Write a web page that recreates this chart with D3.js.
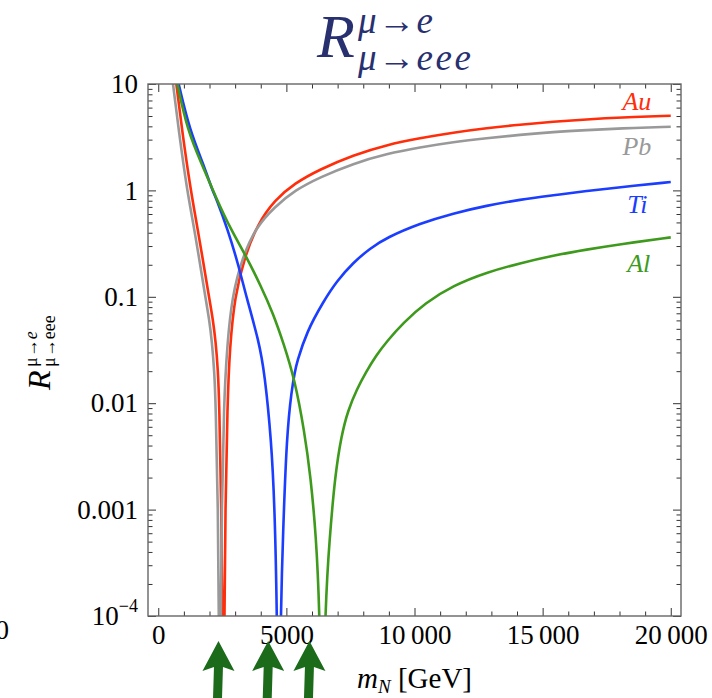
<!DOCTYPE html>
<html lang="en">
<head>
<meta charset="UTF-8">
<title>R mu-e over mu-eee</title>
<style>
    body { margin: 0; background: #fff; }
    svg { display: block; font-family: "Liberation Serif", "Times New Roman", serif; }
    .tick text { font-size: 27px; fill: #000; font-family: "Liberation Serif", serif; }
    .tick line { stroke: #333; stroke-width: 1; }
</style>
</head>
<body>
<svg id="chart" width="712" height="698"></svg>
<script src="https://d3js.org/d3.v7.min.js"></script>
<script>
// values: [m_N in GeV, ratio]
const auCurve = [
    [706, 10], [927, 3.7], [1265, 1.0], [1551, 0.42], [1980, 0.1], [2130, 0.062], [2240, 0.038],
    [2330, 0.0205], [2383, 0.01], [2461, 0.001], [2515, 1e-4], [2545, 1e-6], [2575, 1e-4],
    [2620, 0.001], [2700, 0.01], [2790, 0.033], [2982, 0.1], [3372, 0.24], [3893, 0.49],
    [4543, 0.81], [5324, 1.17], [6312, 1.58], [7612, 2.15], [8915, 2.68], [10215, 3.1],
    [11516, 3.5], [12817, 3.85], [14117, 4.15], [15418, 4.42], [16720, 4.65], [18020, 4.85],
    [20000, 5.03]
];
const pbCurve = [
    [576, 10], [797, 3.7], [1122, 1.0], [1421, 0.42], [1837, 0.1], [1995, 0.06], [2095, 0.038],
    [2190, 0.0196], [2241, 0.01], [2332, 0.001], [2371, 1e-4], [2400, 1e-6], [2430, 1e-4],
    [2480, 0.001], [2560, 0.01], [2690, 0.035], [2878, 0.1], [3281, 0.235], [3828, 0.456],
    [4543, 0.70], [5324, 1.0], [6312, 1.33], [7612, 1.79], [8915, 2.21], [10215, 2.54],
    [11516, 2.85], [12817, 3.1], [14117, 3.33], [15418, 3.54], [16720, 3.69], [18020, 3.83],
    [20000, 3.97]
];
const tiCurve = [
    [797, 10], [1226, 3.7], [1750, 1.8], [2110, 1.0], [2267, 0.84], [2722, 0.42], [3112, 0.206],
    [3437, 0.1], [3930, 0.038], [4153, 0.019], [4412, 0.0045], [4543, 0.00106], [4640, 1e-4],
    [4705, 1e-6], [4770, 1e-4], [4870, 0.0006], [5012, 0.005], [5208, 0.0135], [5330, 0.0195],
    [5403, 0.024], [5793, 0.047], [6441, 0.09], [6962, 0.14], [7612, 0.21], [8263, 0.285],
    [8915, 0.36], [10215, 0.49], [11516, 0.61], [12817, 0.72], [14117, 0.82], [15418, 0.9],
    [16720, 0.99], [18020, 1.07], [20000, 1.2]
];
const alCurve = [
    [745, 10], [1135, 3.7], [1681, 1.8], [2267, 0.84], [2852, 0.42], [3372, 0.256], [4023, 0.124],
    [4478, 0.07], [4900, 0.036], [5330, 0.0165], [5700, 0.0055], [5950, 0.002], [6150, 0.0006],
    [6320, 1e-4], [6400, 1e-6], [6480, 1e-4], [6690, 0.00055], [6900, 0.0021], [7150, 0.005],
    [7400, 0.0085], [7750, 0.0135], [8100, 0.0195], [8500, 0.028], [8915, 0.038], [9565, 0.057],
    [10400, 0.087], [11516, 0.128], [12817, 0.17], [14117, 0.207], [15418, 0.245],
    [16720, 0.278], [18020, 0.312], [20000, 0.362]
];

const seriesNames = ['Au', 'Pb', 'Ti', 'Al'];
const seriesColors = ['#ff2d0a', '#999999', '#1a3dff', '#3e9a1c'];
// label anchor point [m_N, ratio] next to each curve (text baseline)
const labelAt = [[18680, 5.7], [18680, 2.15], [18700, 0.613], [18750, 0.171]];

const xMajorTicks = [0, 5000, 10000, 15000, 20000];
const yMajorTicks = [1e-4, 0.001, 0.01, 0.1, 1, 10];
const yTickLabels = ['10\u207B\u2074', '0.001', '0.01', '0.1', '1', '10'];
// the hand drawn arrows under the axis
const arrowMasses = [2350, 4290, 5900];

const svg = d3.select('#chart');
const frame = { left: 148, right: 681, top: 84, bottom: 616 };

const x = d3.scaleLinear().domain([-400, 20400]).range([frame.left, frame.right]);
const y = d3.scaleLog().domain([1e-4, 10]).range([frame.bottom, frame.top]);

svg.append('rect').attr('width', 712).attr('height', 698).attr('fill', '#fff');

svg.append('defs').append('clipPath').attr('id', 'plot-clip')
    .append('rect')
    .attr('x', frame.left).attr('y', frame.top)
    .attr('width', frame.right - frame.left).attr('height', frame.bottom - frame.top);

// curves (b-spline smooths the read-off points)
const line = d3.line()
    .x(d => x(d[0]))
    .y(d => y(d[1]))
    .curve(d3.curveBasis);

const curves = [auCurve, pbCurve, tiCurve, alCurve];
curves.forEach((c, i) => {
    svg.append('path')
        .attr('clip-path', 'url(#plot-clip)')
        .attr('d', line(c))
        .attr('fill', 'none')
        .attr('stroke', seriesColors[i])
        .attr('stroke-width', 2.6);
});

// curve labels
seriesNames.forEach((name, i) => {
    svg.append('text')
        .attr('x', x(labelAt[i][0]))
        .attr('y', y(labelAt[i][1]))
        .attr('text-anchor', 'middle')
        .attr('font-style', 'italic')
        .attr('font-size', 26)
        .attr('fill', seriesColors[i])
        .text(name);
});

// frame + inward ticks on all four sides
const xMinor = x.ticks(20).filter(v => v >= 0 && !xMajorTicks.includes(v));
const yMinor = y.ticks().filter(v => !yMajorTicks.some(t => Math.abs(t - v) / v < 1e-6));

function noDomain(g) { g.select('.domain').remove(); }

const fmtX = d => d < 10000 ? String(d) : d3.format(',')(d).replace(',', '\u2009');

svg.append('g').attr('transform', `translate(0,${frame.bottom})`)
    .call(d3.axisBottom(x).tickValues(xMajorTicks).tickSize(-8).tickPadding(9).tickFormat(fmtX))
    .call(noDomain);
svg.append('g').attr('transform', `translate(0,${frame.bottom})`)
    .call(d3.axisBottom(x).tickValues(xMinor).tickSize(-4.5).tickFormat(''))
    .call(noDomain);
svg.append('g').attr('transform', `translate(0,${frame.top})`)
    .call(d3.axisTop(x).tickValues(xMajorTicks).tickSize(-8).tickFormat(''))
    .call(noDomain);
svg.append('g').attr('transform', `translate(0,${frame.top})`)
    .call(d3.axisTop(x).tickValues(xMinor).tickSize(-4.5).tickFormat(''))
    .call(noDomain);

const yLeft = svg.append('g').attr('transform', `translate(${frame.left},0)`)
    .call(d3.axisLeft(y).tickValues(yMajorTicks).tickSize(-8).tickPadding(10)
        .tickFormat((d, i) => yTickLabels[i]))
    .call(noDomain);
svg.append('g').attr('transform', `translate(${frame.left},0)`)
    .call(d3.axisLeft(y).tickValues(yMinor).tickSize(-4.5).tickFormat(''))
    .call(noDomain);
svg.append('g').attr('transform', `translate(${frame.right},0)`)
    .call(d3.axisRight(y).tickValues(yMajorTicks).tickSize(-8).tickFormat(''))
    .call(noDomain);
svg.append('g').attr('transform', `translate(${frame.right},0)`)
    .call(d3.axisRight(y).tickValues(yMinor).tickSize(-4.5).tickFormat(''))
    .call(noDomain);

// 10^-4 with a real superscript
yLeft.selectAll('.tick text').filter(d => d === 1e-4)
    .text(null)
    .call(t => {
        t.append('tspan').text('10');
        t.append('tspan').attr('dy', -13).attr('font-size', 18).text('\u22124');
    });

svg.append('rect')
    .attr('x', frame.left).attr('y', frame.top)
    .attr('width', frame.right - frame.left).attr('height', frame.bottom - frame.top)
    .attr('fill', 'none').attr('stroke', '#666').attr('stroke-width', 1.4);

// stray label from a neighbouring panel, cut by the left edge
svg.append('text').attr('x', 9).attr('y', 639).attr('text-anchor', 'end')
    .attr('font-size', 27).text('0');

// title
const titleColor = '#283070';
svg.append('text').attr('x', 317).attr('y', 57).attr('font-size', 62)
    .attr('font-style', 'italic').attr('fill', titleColor).text('R');
const tSup = svg.append('text').attr('x', 358).attr('y', 33).attr('font-size', 37)
    .attr('letter-spacing', 1.5).attr('fill', titleColor);
tSup.append('tspan').attr('font-style', 'italic').text('\u03BC');
tSup.append('tspan').text('\u2192');
tSup.append('tspan').attr('font-style', 'italic').text('e');
const tSub = svg.append('text').attr('x', 358).attr('y', 70).attr('font-size', 37)
    .attr('letter-spacing', 1.5).attr('fill', titleColor);
tSub.append('tspan').attr('font-style', 'italic').text('\u03BC');
tSub.append('tspan').text('\u2192');
tSub.append('tspan').attr('font-style', 'italic').attr('letter-spacing', 2.5).text('eee');

// y axis label (rotated)
const yLab = svg.append('g').attr('transform', `translate(50,${(frame.top + frame.bottom) / 2}) rotate(-90)`);
yLab.append('text').attr('x', -40).attr('y', 0).attr('font-size', 32)
    .attr('font-style', 'italic').text('R');
const ySup = yLab.append('text').attr('x', -17).attr('y', -13).attr('font-size', 18);
ySup.append('tspan').text('\u03BC\u2192');
ySup.append('tspan').attr('font-style', 'italic').text('e');
yLab.append('text').attr('x', -17).attr('y', 5).attr('font-size', 18).text('\u03BC\u2192eee');

// x axis label
const xLab = svg.append('text').attr('x', (frame.left + frame.right) / 2).attr('y', 688)
    .attr('text-anchor', 'middle').attr('font-size', 29);
xLab.append('tspan').attr('font-style', 'italic').text('m');
xLab.append('tspan').attr('font-style', 'italic').attr('font-size', 19).attr('dy', 5).text('N');
xLab.append('tspan').attr('dy', -5).text(' [GeV]');

// arrows
arrowMasses.forEach(m => {
    const cx = x(m);
    const tip = 641, base = 669, hw = 16, sw = 4.5;
    const p = d3.path();
    p.moveTo(cx, tip);
    p.lineTo(cx + hw, base + 2);
    p.lineTo(cx + sw, base - 2);
    p.lineTo(cx + sw - 1, 700);
    p.lineTo(cx - sw - 1, 700);
    p.lineTo(cx - sw, base - 2);
    p.lineTo(cx - hw, base + 2);
    p.closePath();
    svg.append('path').attr('d', p.toString()).attr('fill', '#1b6b1b');
});
</script>
</body>
</html>
